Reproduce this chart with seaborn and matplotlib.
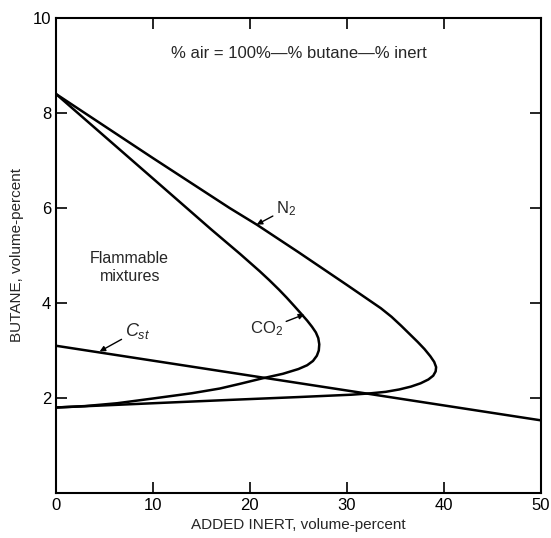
import numpy as np
import pandas as pd
import seaborn as sns
import matplotlib.pyplot as plt

# curves (added inert %, butane %), in drawing order
n2_x = [0, 10, 17.9, 20.7, 25, 30, 32, 33.5, 34.6, 35.6, 36.5, 37.3, 38.0, 38.6, 39.0, 39.2, 39.15,
        38.9, 38.4, 37.6, 36.6, 35.4, 34.0, 32.5, 30.5, 25, 17.9, 10, 0]
n2_y = [8.4, 7.05, 6.0, 5.65, 5.07, 4.38, 4.1, 3.89, 3.71, 3.52, 3.34, 3.18, 3.03, 2.88, 2.76, 2.65, 2.56,
        2.47, 2.39, 2.31, 2.24, 2.18, 2.13, 2.10, 2.07, 2.02, 1.96, 1.89, 1.80]

co2_x = [0, 10, 16, 19, 21, 22, 23, 23.8, 24.6, 25.3, 25.9, 26.4, 26.8, 27.05, 27.15, 27.1,
         26.9, 26.5, 25.9, 25.0, 23.4, 21.2, 19, 16.9, 14, 10, 6.3, 3, 0]
co2_y = [8.4, 6.62, 5.55, 5.03, 4.67, 4.48, 4.28, 4.11, 3.93, 3.77, 3.63, 3.5, 3.38, 3.26, 3.13, 3.0,
         2.89, 2.78, 2.69, 2.61, 2.51, 2.41, 2.3, 2.2, 2.1, 1.99, 1.89, 1.83, 1.8]

cst_x = [0, 50]
cst_y = [3.1, 1.53]

x_ticks = [0, 10, 20, 30, 40, 50]
y_ticks = [2, 4, 6, 8, 10]

sns.set_theme(style="ticks")
plt.rcParams['font.family'] = ['Liberation Sans', 'DejaVu Sans']
plt.rcParams['mathtext.fontset'] = 'custom'
plt.rcParams['mathtext.rm'] = 'Liberation Sans'
plt.rcParams['mathtext.it'] = 'Liberation Sans:italic'

fig = plt.figure(figsize=(5.51, 5.38), dpi=100)
ax = fig.add_axes([0.1016, 0.0836, 0.880, 0.883])

for xs, ys in [(n2_x, n2_y), (co2_x, co2_y), (cst_x, cst_y)]:
    df = pd.DataFrame({'x': xs, 'y': ys})
    sns.lineplot(data=df, x='x', y='y', sort=False, estimator=None,
                 color='black', lw=1.8, solid_joinstyle='round', ax=ax)

ax.set_xlim(0, 50)
ax.set_ylim(0, 10)
ax.set_xticks(x_ticks)
ax.set_yticks(y_ticks)
ax.tick_params(direction='in', length=8, width=1.2, labelsize=12,
               top=True, right=True, colors='black')
for s in ax.spines.values():
    s.set_linewidth(1.5)
    s.set_color('black')

ax.set_xlabel('ADDED INERT, volume-percent', fontsize=11, labelpad=4)
ax.set_ylabel('BUTANE, volume-percent', fontsize=11, labelpad=6)

ax.text(25, 9.26, '% air = 100%\u2014% butane\u2014% inert', ha='center', va='center', fontsize=12)
ax.text(7.6, 4.75, 'Flammable\nmixtures', ha='center', va='center', fontsize=11.5, linespacing=1.2)

arrow = dict(arrowstyle='-|>', color='black', lw=1, mutation_scale=8, shrinkA=0, shrinkB=0)
ax.annotate('N$_2$', xy=(20.7, 5.65), xytext=(22.7, 5.98), fontsize=12,
            ha='left', va='center', arrowprops=arrow)
ax.annotate('CO$_2$', xy=(25.6, 3.76), xytext=(23.4, 3.45), fontsize=12,
            ha='right', va='center', arrowprops=arrow)
ax.annotate('$C_{st}$', xy=(4.5, 2.98), xytext=(7.1, 3.42), fontsize=13,
            ha='left', va='center', arrowprops=arrow)

fig.savefig('out.png', dpi=100)
